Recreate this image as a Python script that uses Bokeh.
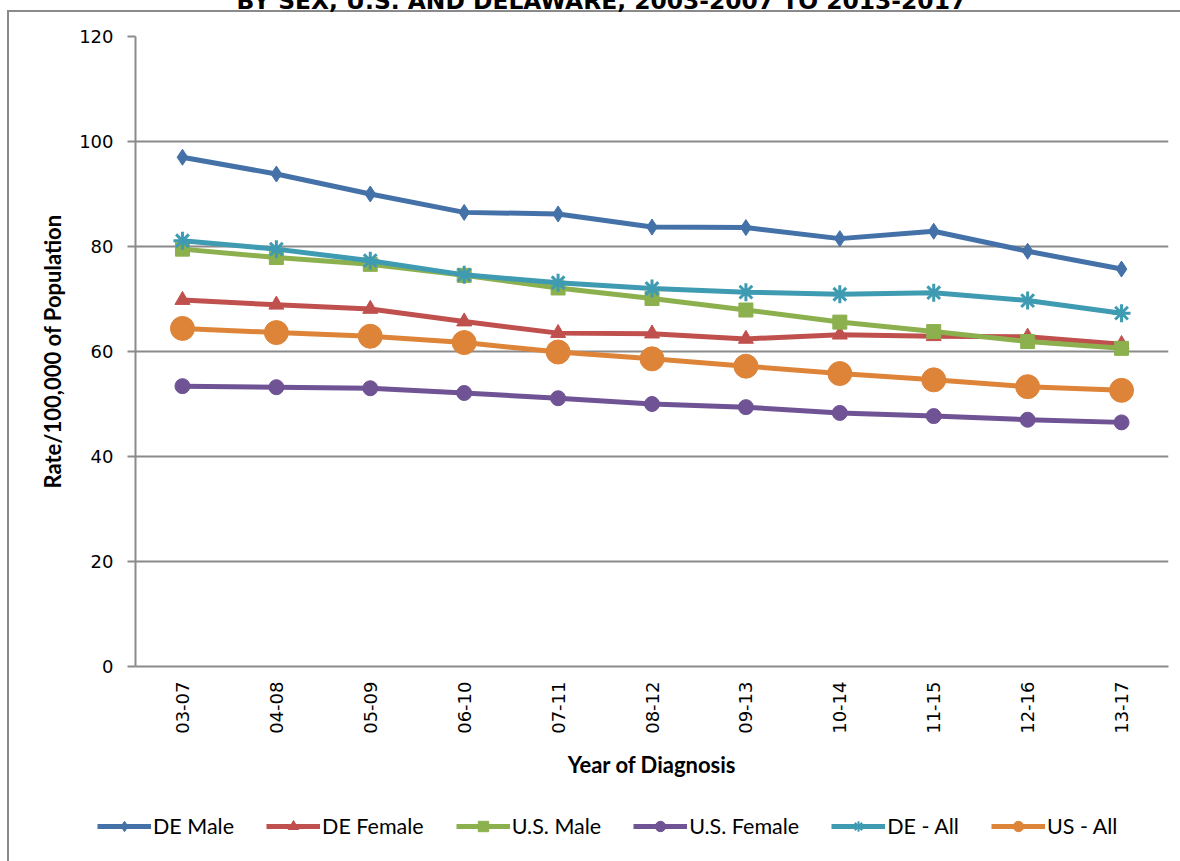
import math
from bokeh.plotting import figure
from bokeh.models import FactorRange, Range1d, FixedTicker, Legend, LegendItem
from bokeh.embed import file_html
from bokeh.resources import INLINE

periods = ["03-07", "04-08", "05-09", "06-10", "07-11", "08-12",
           "09-13", "10-14", "11-15", "12-16", "13-17"]

de_male = [97.0, 93.8, 90.0, 86.5, 86.2, 83.7, 83.6, 81.5, 82.9, 79.1, 75.7]
de_female = [69.8, 68.9, 68.1, 65.7, 63.5, 63.4, 62.4, 63.2, 62.9, 62.8, 61.4]
us_male = [79.5, 77.9, 76.6, 74.5, 72.1, 70.1, 67.9, 65.6, 63.8, 61.9, 60.6]
us_female = [53.4, 53.2, 53.0, 52.1, 51.1, 50.0, 49.4, 48.3, 47.7, 47.0, 46.5]
de_all = [81.1, 79.5, 77.3, 74.6, 73.1, 72.0, 71.3, 70.9, 71.2, 69.7, 67.3]
us_all = [64.4, 63.6, 62.9, 61.7, 59.9, 58.6, 57.2, 55.8, 54.6, 53.3, 52.6]

series = [
    ("DE Male", de_male, "#4472A8", "diamond", 16),
    ("DE Female", de_female, "#C0504D", "triangle", 15),
    ("U.S. Male", us_male, "#8CB04E", "square", 14),
    ("U.S. Female", us_female, "#6F5394", "circle", 15),
    ("DE - All", de_all, "#3F9BB1", "asterisk", 18),
    ("US - All", us_all, "#DE8439", "circle", 24),
]

title_text = "BY SEX, U.S. AND DELAWARE, 2003-2007 TO 2013-2017"
y_ticks = [0, 20, 40, 60, 80, 100, 120]

grid_col = "#8A8A8A"
SHIFT = 40  # the page is pulled up so the title is cut at the top edge

p = figure(width=1180, height=790 + SHIFT, x_range=FactorRange(*periods),
           y_range=Range1d(0, 120), output_backend="svg", toolbar_location=None,
           min_border_left=135, min_border_right=12, min_border_top=36 + SHIFT,
           min_border_bottom=124)
p.x_range.range_padding = 0
p.outline_line_color = None
p.background_fill_color = "white"
p.border_fill_alpha = 0

p.title.text = title_text
p.title.align = "left"
p.title.offset = 101
p.title.text_font = "DejaVu Sans"
p.title.text_font_style = "bold"
p.title.text_font_size = "23.4px"
p.title.text_color = "#000000"
p.title.standoff = 43

p.xgrid.grid_line_color = None
p.ygrid.grid_line_color = grid_col
p.ygrid.grid_line_width = 2
p.yaxis.ticker = FixedTicker(ticks=y_ticks)

for ax in (p.xaxis[0], p.yaxis[0]):
    ax.axis_line_color = grid_col
    ax.axis_line_width = 2
    ax.major_tick_line_color = grid_col
    ax.major_tick_line_width = 2
    ax.minor_tick_line_color = None
    ax.major_label_text_font = "DejaVu Sans"
    ax.major_label_text_font_size = "18px"
    ax.major_label_text_color = "#000000"
    ax.axis_label_text_font = "Lato"
    ax.axis_label_text_font_style = "bold"
    ax.axis_label_text_font_size = "22px"
    ax.axis_label_text_color = "#000000"

p.yaxis.major_tick_in = 0
p.yaxis.major_tick_out = 8
p.yaxis.major_label_standoff = 14
p.yaxis.axis_label = "Rate/100,000 of Population"
p.yaxis.axis_label_standoff = 10

p.xaxis.major_tick_in = 0
p.xaxis.major_tick_out = 0
p.xaxis.major_label_orientation = math.pi / 2
p.xaxis.major_label_standoff = 15
p.xaxis.axis_label = "Year of Diagnosis"
p.xaxis.axis_label_standoff = 14

for name, vals, col, marker, size in series:
    p.line(periods, vals, line_color=col, line_width=5)
    if marker == "asterisk":
        p.scatter(periods, vals, marker=marker, size=size, line_color=col,
                  line_width=3)
    else:
        p.scatter(periods, vals, marker=marker, size=size, fill_color=col,
                  line_color=col)

# legend strip: its own canvas; series drawn out of its view, only the legend shows
p2 = figure(width=1180, height=71, x_range=FactorRange(*periods),
            y_range=Range1d(-2, -1), output_backend="svg",
            toolbar_location=None, min_border=0)
p2.axis.visible = False
p2.grid.visible = False
p2.outline_line_color = None
p2.background_fill_alpha = 0
p2.border_fill_alpha = 0

items = []
for name, vals, col, marker, size in series:
    r1 = p2.line(periods, vals, line_color=col, line_width=5)
    if marker == "asterisk":
        r2 = p2.scatter(periods, vals, marker=marker, size=size,
                        line_color=col, line_width=2)
    else:
        r2 = p2.scatter(periods, vals, marker=marker, size=size,
                        fill_color=col, line_color=col)
    items.append(LegendItem(label=name, renderers=[r1, r2]))

legend = Legend(items=items, orientation="horizontal", location=(97, 22),
                glyph_width=54, glyph_height=26, label_standoff=2, spacing=32,
                padding=0, margin=0, border_line_color=None,
                background_fill_alpha=0,
                label_text_font="Lato", label_text_font_size="21.5px",
                label_text_color="#000000")
p2.add_layout(legend, "center")

line_l = f"linear-gradient({grid_col},{grid_col}) 7px 0px / 2px 100% no-repeat"
p.styles = {
    "position": "relative",
    "top": f"-{SHIFT}px",
    "background": (
        f"linear-gradient({grid_col},{grid_col}) 7px {SHIFT + 10}px / 2px 100% no-repeat, "
        f"linear-gradient({grid_col},{grid_col}) 7px {SHIFT + 10}px / 100% 2px no-repeat, "
        "#ffffff"
    ),
}
p2.styles = {
    "position": "relative",
    "top": f"-{SHIFT}px",
    "background": f"{line_l}, #ffffff",
}

open("out.html", "w").write(file_html([p, p2], INLINE))
